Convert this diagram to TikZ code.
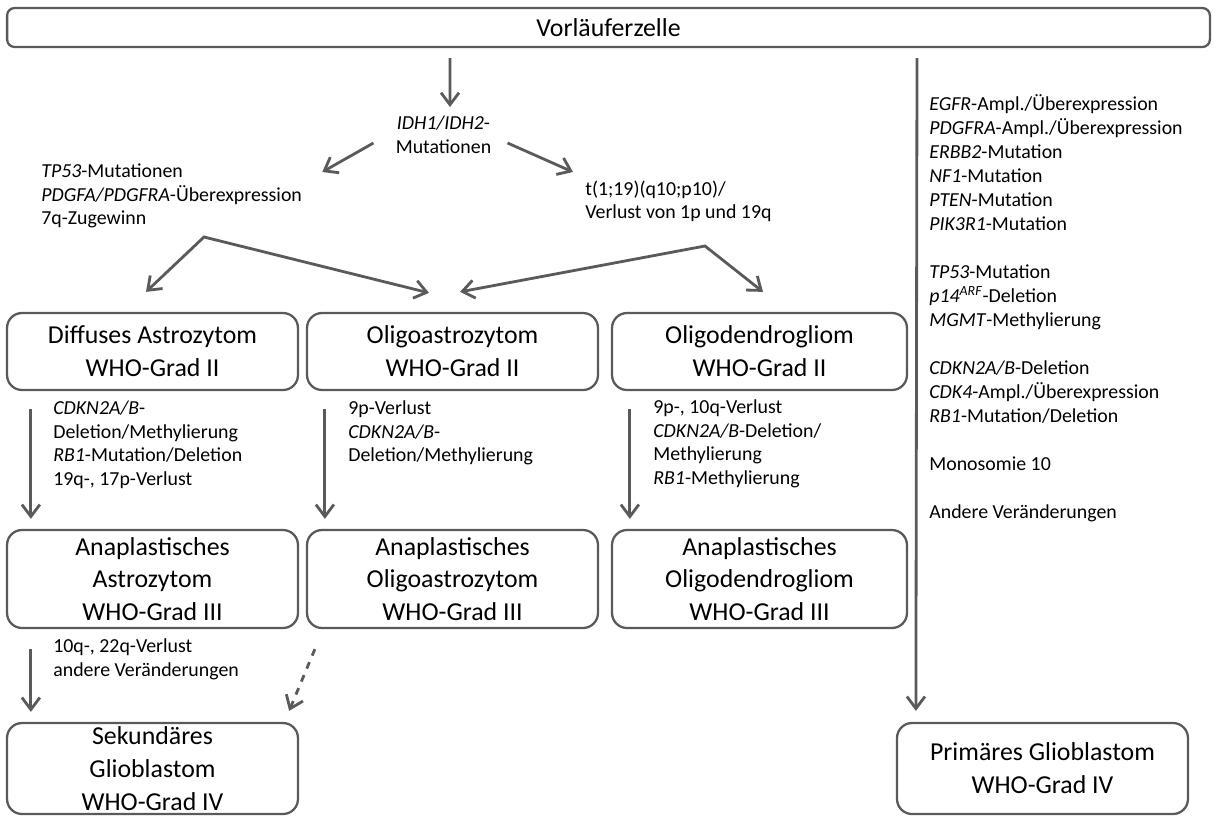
\documentclass[tikz,border=0pt]{standalone}
\usepackage{fontspec}
\setmainfont{Carlito}
\usepackage{xcolor}
\usetikzlibrary{arrows.meta,positioning,calc}
\definecolor{rahmen}{RGB}{90,90,90}

\begin{document}
\begin{tikzpicture}[x=0.02cm, y=-0.02cm, >={Straight Barb[length=2.4mm,width=3.6mm]},
  box/.style={draw=rahmen, line width=1.3pt, rounded corners=0.3cm, align=center, inner sep=0pt,
    font=\fontsize{14.7}{18.7}\selectfont},
  info/.style={align=left, inner sep=0pt, anchor=west, font=\fontsize{11.3}{13.4}\selectfont},
  pfeil/.style={->, draw=rahmen, line width=1.6pt}]
\useasboundingbox (0,0) rectangle (1217,816);
\node[box, rounded corners=0.15cm, minimum width=24.06cm, minimum height=0.78cm] (top) at (608.5,27.5) {Vorläuferzelle};
\node[info, anchor=center, align=center] (idh) at (443.5,135) {\textit{IDH1/IDH2}-\\Mutationen};
\node[info] (tp) at (41,196) {\textit{TP53}-Mutationen\\\textit{PDGFA/PDGFRA}-Überexpression\\7q-Zugewinn};
\node[info] (tl) at (585,201.5) {t(1;19)(q10;p10)/\\Verlust von 1p und 19q};
\coordinate (cl) at (204,237);
\coordinate (cr) at (705,246);
% WHO-Grad II
\node[box, minimum width=5.82cm, minimum height=1.54cm] (da) at (152.5,351.5) {Diffuses Astrozytom\\WHO-Grad II};
\node[box, minimum width=5.82cm, minimum height=1.54cm] (oa) at (452.5,351.5) {Oligoastrozytom\\WHO-Grad II};
\node[box, minimum width=5.9cm, minimum height=1.54cm] (od) at (759.5,351.5) {Oligodendrogliom\\WHO-Grad II};
\node[info] (gda) at (53,445) {\textit{CDKN2A/B}-\\Deletion/Methylierung\\\textit{RB1}-Mutation/Deletion\\19q-, 17p-Verlust};
\node[info] (goa) at (348,433) {9p-Verlust\\\textit{CDKN2A/B}-\\Deletion/Methylierung};
\node[info] (god) at (653,444) {9p-, 10q-Verlust\\\textit{CDKN2A/B}-Deletion/\\Methylierung\\\textit{RB1}-Methylierung};
% WHO-Grad III
\node[box, minimum width=5.82cm, minimum height=1.96cm] (aa) at (152.5,579) {Anaplastisches\\Astrozytom\\WHO-Grad III};
\node[box, minimum width=5.82cm, minimum height=1.96cm] (ao) at (452.5,579) {Anaplastisches\\Oligoastrozytom\\WHO-Grad III};
\node[box, minimum width=5.9cm, minimum height=1.96cm] (ado) at (759.5,579) {Anaplastisches\\Oligodendrogliom\\WHO-Grad III};
\node[info] (gaa) at (53,659.5) {10q-, 22q-Verlust\\andere Veränderungen};
% WHO-Grad IV
\node[box, minimum width=5.82cm, minimum height=1.82cm] (sg) at (152.5,768.5) {Sekundäres\\Glioblastom\\WHO-Grad IV};
\node[box, minimum width=5.82cm, minimum height=1.82cm] (pg) at (1042.5,768.5) {Primäres Glioblastom\\WHO-Grad IV};
\node[info, font=\fontsize{11.3}{13.65}\selectfont] (gpg) at (929,308.5) {\textit{EGFR}-Ampl./Überexpression\\\textit{PDGFRA}-Ampl./Überexpression\\\textit{ERBB2}-Mutation\\\textit{NF1}-Mutation\\\textit{PTEN}-Mutation\\\textit{PIK3R1}-Mutation\\[13.65pt]\textit{TP53}-Mutation\\\textit{p14\textsuperscript{ARF}}-Deletion\\\textit{MGMT}-Methylierung\\[13.65pt]\textit{CDKN2A/B}-Deletion\\\textit{CDK4}-Ampl./Überexpression\\\textit{RB1}-Mutation/Deletion\\[13.65pt]Monosomie 10\\[13.65pt]Andere Veränderungen};
% arrows
\draw[pfeil] ($(top.south)+(-158.5,10)$) -- ($(idh.north)+(6.5,-9)$);
\draw[pfeil] ($(idh.west)+(-22,8)$) -- ($(tp.east)+(20,-24)$);
\draw[pfeil] ($(idh.east)+(16,8)$) -- ($(tl.west)+(-12,-29.5)$);
\draw[pfeil, <->] ($(da.north)+(-6.5,-20)$) -- (cl) -- ($(oa.north)+(-23.5,-19)$);
\draw[pfeil, <->] ($(oa.north)+(7.5,-20)$) -- (cr) -- ($(od.north)+(3.5,-20)$);
\draw[pfeil] ($(da.south west)+(25,18)$) -- ($(aa.north west)+(25,-10)$);
\draw[pfeil] ($(oa.south west)+(19,18)$) -- ($(ao.north west)+(19,-10)$);
\draw[pfeil] ($(od.south west)+(19,18)$) -- ($(ado.north west)+(19,-10)$);
\draw[pfeil] ($(aa.south west)+(25,20)$) -- ($(sg.north west)+(25,-10)$);
\draw[pfeil, dash pattern=on 4pt off 4pt] ($(ao.south west)+(9,20)$) -- ($(sg.north east)+(-10,-11)$);
\draw[pfeil] ($(top.south)+(308.5,10)$) -- ($(pg.north west)+(20,-11)$);
\end{tikzpicture}
\end{document}
